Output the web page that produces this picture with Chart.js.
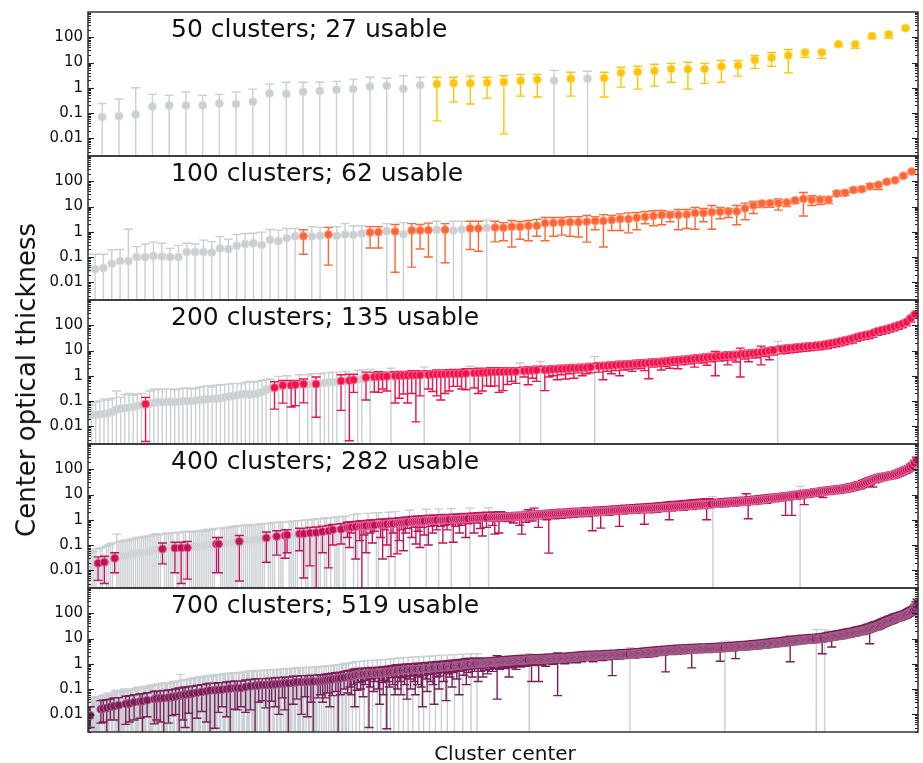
<!DOCTYPE html>
<html>
<head>
<meta charset="utf-8">
<title>Center optical thickness by cluster count</title>
<script src="https://cdn.jsdelivr.net/npm/chart.js@4.4.0/dist/chart.umd.min.js"></script>
<style>
  body { margin: 0; background: #fff; }
  #fig { position: relative; width: 923px; height: 763px; overflow: hidden; }
  #fig canvas { position: absolute; left: 0; }
  #ylab {
    position: absolute; left: 26px; top: 380px;
    transform: translate(-50%, -50%) rotate(-90deg);
    font: 26px "DejaVu Sans"; line-height: 1; color: #111; white-space: nowrap;
  }
</style>
</head>
<body>
<div id="fig">
  <div id="ylab">Center optical thickness</div>
</div>
<script>
// Each panel: sorted center optical thickness per cluster, the upper / lower end
// of its error bar (lo = 0 means the bar runs off the bottom of the axis),
// and a usable flag per cluster ('1' usable, '0' not).

// ---- 50 clusters ----
const tau50 = [0.06, 0.07, 0.075, 0.087, 0.18, 0.2, 0.2, 0.2, 0.24, 0.23,
  0.28, 0.6, 0.58, 0.7, 0.74, 0.83, 0.89, 1.13, 1.2, 0.91,
  1.27, 1.4, 1.53, 1.5, 1.58, 1.7, 1.9, 2.1, 1.9, 2.3,
  2.3, 2.4, 3.9, 4.2, 4.6, 5.6, 5.4, 5.6, 6.9, 7.7,
  12.5, 15.4, 19, 25, 25, 53, 53, 112, 131, 230];
const hi50 = [0.2, 0.24, 0.36, 1.0, 0.55, 0.5, 0.68, 0.5, 0.55, 0.68,
  0.89, 1.4, 1.67, 1.67, 1.67, 1.8, 2.2, 2.6, 2.4, 3.0,
  2.6, 2.6, 2.6, 2.9, 2.6, 3.0, 3.4, 3.4, 4.9, 4.1,
  4.5, 4.1, 6.5, 7.1, 8.5, 9.3, 10.2, 9.3, 12.2, 12.2,
  19, 25, 33, 30, 30, 60, 60, 122, 142, 250];
const lo50 = [0, 0, 0, 0, 0, 0, 0, 0, 0, 0,
  0, 0, 0, 0, 0, 0, 0, 0, 0, 0,
  0, 0.049, 0.27, 0.23, 0.39, 0.015, 0.47, 0.43, 0, 0.47,
  0, 0.43, 1.06, 0.89, 1.16, 1.67, 0.89, 1.5, 1.67, 2.9,
  5.9, 7.1, 3.9, 16, 14.6, 42, 37, 86, 91, 205];
const usable50 = ['0000000000', '0000000000', '0111111101', '0111111111', '1111111111'].join('');

// ---- 100 clusters ----
const tau100 = [0.033, 0.033, 0.037, 0.055, 0.07, 0.07, 0.1, 0.1, 0.11, 0.105,
  0.1, 0.1, 0.16, 0.16, 0.16, 0.15, 0.22, 0.21, 0.28, 0.33,
  0.35, 0.3, 0.48, 0.43, 0.56, 0.67, 0.67, 0.65, 0.7, 0.78,
  0.7, 0.78, 0.76, 0.86, 0.94, 0.97, 1.06, 1.03, 0.8, 1.13,
  1.13, 1.16, 1.2, 1.2, 1.13, 1.24, 1.35, 1.35, 1.4, 1.48,
  1.44, 1.58, 1.58, 1.73, 1.73, 2.2, 2.27, 2.34, 2.4, 2.4,
  2.5, 2.7, 2.7, 2.9, 3.2, 3.2, 3.6, 3.9, 4.2, 4.6,
  4.6, 4.6, 4.8, 5.5, 5.5, 6.0, 6.2, 6.4, 6.4, 8.4,
  11, 13.2, 13.6, 13.6, 14.5, 17.4, 20, 18.4, 18.4, 18.4,
  33, 35, 45.5, 48.5, 63, 72, 95, 110, 164, 243];
const hi100 = [0.13, 0.13, 0.13, 0.19, 0.2, 1.27, 0.26, 0.33, 0.39, 0.35,
  0.22, 0.29, 0.35, 0.33, 0.47, 0.41, 0.65, 0.51, 0.78, 0.86,
  0.88, 0.97, 1.23, 1.16, 1.35, 1.35, 1.2, 1.6, 1.5, 1.5,
  1.6, 2.1, 1.7, 1.7, 1.6, 1.6, 2.1, 1.95, 2.3, 2.1,
  1.95, 2.2, 2.6, 2.1, 2.6, 2.6, 2.6, 2.6, 2.9, 2.6,
  2.3, 2.8, 2.56, 2.8, 3.1, 3.7, 3.7, 3.7, 4.0, 4.0,
  4.4, 4.0, 4.8, 4.4, 5.1, 5.6, 5.8, 6.4, 6.8, 7.0,
  6.4, 7.6, 7.6, 9.2, 8.4, 11, 9.2, 8.4, 11, 13.6,
  15.8, 15.8, 16.8, 20, 15.8, 20.8, 35.8, 27, 25, 25,
  40, 43, 56, 59, 80, 85, 110, 127, 185, 270];
const lo100 = [0, 0, 0, 0, 0, 0, 0, 0, 0, 0,
  0, 0, 0, 0, 0, 0, 0, 0, 0, 0,
  0, 0, 0, 0, 0, 0, 0.13, 0, 0, 0.048,
  0, 0, 0, 0, 0.23, 0.23, 0, 0.025, 0, 0.04,
  0.21, 0.1, 0, 0.06, 0, 0, 0.2, 0.17, 0, 0.4,
  0.44, 0.25, 0.51, 0.44, 0.67, 0.44, 0.67, 0.74, 0.67, 0.62,
  0.39, 1.2, 0.25, 1.13, 1.13, 0.91, 1.2, 2.07, 1.73, 1.9,
  2.5, 1.2, 1.35, 1.27, 2.5, 1.27, 3.3, 3.7, 1.9, 3.0,
  5.3, 9.2, 9.4, 7.2, 10, 13.2, 4.2, 11, 12, 13.2,
  25.6, 27, 37, 40, 50, 47, 82, 95, 145, 220];
const usable100 = ['0000000000', '0000000000', '0000001001', '0000110101', '1101001101',
  '1111111111', '1111111111', '1111111111', '1111111111', '1111111111'].join('');

// ---- 200 clusters ----
const tau200 = [0.025, 0.026, 0.028, 0.030, 0.031, 0.033, 0.037, 0.045, 0.050, 0.052,
  0.055, 0.058, 0.065, 0.070, 0.076, 0.078, 0.085, 0.090, 0.090, 0.092,
  0.095, 0.090, 0.095, 0.10, 0.10, 0.10, 0.105, 0.11, 0.115, 0.12,
  0.12, 0.125, 0.13, 0.14, 0.15, 0.16, 0.17, 0.18, 0.19, 0.18,
  0.19, 0.20, 0.23, 0.28, 0.31, 0.34, 0.36, 0.42, 0.40, 0.42,
  0.44, 0.45, 0.47, 0.46, 0.48, 0.47, 0.50, 0.52, 0.55, 0.55,
  0.57, 0.62, 0.60, 0.65, 0.69, 0.70, 0.75, 0.86, 0.82, 0.90,
  0.92, 0.94, 0.95, 0.90, 1.0, 1.0, 1.02, 1.03, 1.04, 1.05,
  1.06, 1.05, 1.10, 1.12, 1.14, 1.15, 1.16, 1.17, 1.18, 1.19,
  1.20, 1.22, 1.20, 1.28, 1.30, 1.33, 1.35, 1.38, 1.40, 1.42,
  1.43, 1.44, 1.45, 1.46, 1.50, 1.55, 1.60, 1.63, 1.66, 1.68,
  1.70, 1.74, 1.78, 1.82, 1.86, 1.90, 1.94, 1.98, 2.02, 2.06,
  2.10, 2.20, 2.30, 2.40, 2.45, 2.50, 2.55, 2.60, 2.70, 2.75,
  2.80, 2.85, 2.90, 3.00, 3.10, 3.20, 3.30, 3.40, 3.50, 3.60,
  3.75, 3.90, 4.05, 4.20, 4.35, 4.50, 4.70, 4.90, 5.10, 5.30,
  5.50, 5.70, 5.90, 6.10, 6.30, 6.50, 6.70, 6.90, 7.10, 7.40,
  7.70, 8.00, 8.40, 9.00, 9.60, 10.2, 11.0, 11.5, 12.0, 12.5,
  13.0, 13.5, 14.0, 14.5, 15.0, 15.5, 16.0, 17.0, 18.0, 19.5,
  21, 23, 25, 27, 30, 34, 38, 41, 44, 50,
  58, 64, 70, 78, 88, 100, 115, 135, 190, 270];
const hi200 = [0.08, 0.07, 0.09, 0.10, 0.12, 0.11, 0.13, 0.25, 0.14, 0.18,
  0.20, 0.17, 0.19, 0.20, 0.14, 0.25, 0.30, 0.28, 0.30, 0.30,
  0.30, 0.28, 0.30, 0.32, 0.33, 0.30, 0.32, 0.35, 0.38, 0.40,
  0.36, 0.42, 0.44, 0.45, 0.47, 0.50, 0.50, 0.48, 0.55, 0.60,
  0.55, 0.60, 0.65, 0.70, 0.75, 0.58, 0.95, 0.65, 1.0, 0.65,
  0.65, 1.1, 0.75, 1.1, 1.2, 0.90, 1.2, 1.3, 1.3, 1.4,
  1.4, 1.1, 1.5, 1.15, 1.15, 1.6, 1.7, 1.4, 1.8, 1.4,
  1.45, 1.4, 1.4, 2.0, 1.45, 1.5, 1.5, 1.5, 1.6, 1.6,
  1.55, 2.2, 1.6, 1.6, 1.7, 1.6, 1.7, 1.75, 1.8, 1.8,
  1.8, 1.9, 2.4, 1.9, 2.0, 2.0, 2.0, 2.1, 2.1, 2.0,
  2.1, 2.0, 2.1, 2.1, 3.2, 2.2, 2.3, 2.3, 2.4, 3.7,
  2.4, 2.4, 2.5, 2.5, 2.6, 2.6, 2.7, 2.8, 2.8, 2.9,
  2.9, 3.1, 5.8, 3.3, 3.4, 3.4, 3.5, 3.6, 3.8, 3.8,
  3.9, 4.0, 4.1, 4.2, 4.3, 4.4, 4.6, 4.7, 4.9, 5.0,
  5.2, 5.4, 5.6, 5.8, 6.0, 6.2, 6.5, 6.8, 7.0, 7.3,
  7.6, 9.1, 8.1, 8.4, 8.7, 9.0, 9.3, 12.4, 9.8, 10.2,
  10.6, 11.0, 15, 12.2, 13.0, 13.8, 23, 15.4, 16.0, 16.6,
  17.2, 17.8, 18.4, 19.0, 19.6, 20.2, 21, 22, 23, 25,
  27, 29, 32, 34, 37, 41, 46, 50, 54, 61,
  70, 77, 84, 93, 104, 118, 135, 158, 220, 310];
const lo200 = [0, 0, 0, 0, 0, 0, 0, 0, 0, 0,
  0, 0, 0, 0, 0.0025, 0, 0, 0, 0, 0,
  0, 0, 0, 0, 0, 0, 0, 0, 0, 0,
  0, 0, 0, 0, 0, 0, 0, 0, 0, 0,
  0, 0, 0, 0, 0, 0.048, 0, 0.083, 0, 0.058,
  0.066, 0, 0.085, 0, 0, 0.023, 0, 0, 0, 0,
  0, 0.043, 0, 0.0027, 0.22, 0, 0, 0.11, 0, 0.23,
  0.22, 0.30, 0.25, 0, 0.084, 0.13, 0.19, 0.084, 0.20, 0.015,
  0.16, 0, 0.30, 0.24, 0.16, 0.11, 0.20, 0.25, 0.38, 0.38,
  0.30, 0.28, 0, 0.33, 0.20, 0.25, 0.40, 0.38, 0.40, 0.22,
  0.26, 0.45, 0.6, 0.5, 0, 0.9, 0.44, 0.8, 0.6, 0,
  0.26, 0.9, 1.0, 0.7, 1.1, 0.75, 1.2, 0.8, 1.3, 1.0,
  1.2, 1.3, 0, 1.4, 0.7, 1.5, 1.2, 1.6, 1.0, 1.7,
  1.8, 1.5, 1.9, 2.0, 1.6, 0.76, 2.2, 2.3, 1.7, 2.4,
  2.0, 2.6, 1.9, 2.7, 2.9, 3.0, 2.2, 3.2, 3.3, 2.6,
  3.6, 1.0, 3.8, 4.0, 2.7, 4.2, 3.5, 0.9, 4.6, 3.6,
  5.0, 5.2, 2.7, 5.8, 4.3, 6.6, 0, 7.4, 7.8, 8.2,
  8.6, 9.0, 9.3, 9.6, 10.0, 10.4, 10.8, 11.4, 12.0, 13.0,
  14, 15.5, 17, 18.5, 20, 23, 26, 28, 30, 34,
  40, 44, 48, 54, 61, 70, 80, 95, 135, 200];
const usable200 = ['0000000000', '0000100000', '0000000000', '0000000000', '0000010101',
  '1010010000', '0101100101', '1110111111', '1011111111', '1101111111',
  '1111011110', '1111111111', '1101111111', '1111111111', '1111111111',
  '1111111111', '1111110111', '1111111111', '1111111111', '1111111111'].join('');

// ---- 400 clusters ----
const tau400 = [0.013, 0.014, 0.016, 0.017, 0.018, 0.019, 0.020, 0.021, 0.021, 0.022,
  0.024, 0.026, 0.028, 0.030, 0.033, 0.035, 0.036, 0.038, 0.039, 0.040,
  0.041, 0.043, 0.044, 0.045, 0.047, 0.048, 0.050, 0.051, 0.053, 0.055,
  0.056, 0.058, 0.060, 0.062, 0.065, 0.068, 0.070, 0.072, 0.074, 0.075,
  0.076, 0.077, 0.076, 0.078, 0.079, 0.077, 0.080, 0.082, 0.078, 0.084,
  0.085, 0.086, 0.088, 0.089, 0.090, 0.092, 0.094, 0.096, 0.098, 0.10,
  0.10, 0.11, 0.11, 0.11, 0.11, 0.12, 0.12, 0.12, 0.12, 0.13,
  0.13, 0.13, 0.14, 0.14, 0.14, 0.15, 0.15, 0.15, 0.16, 0.16,
  0.16, 0.17, 0.17, 0.17, 0.18, 0.18, 0.19, 0.19, 0.20, 0.20,
  0.21, 0.22, 0.22, 0.22, 0.23, 0.24, 0.25, 0.25, 0.26, 0.26,
  0.27, 0.27, 0.28, 0.28, 0.28, 0.29, 0.29, 0.30, 0.30, 0.31,
  0.31, 0.32, 0.33, 0.34, 0.34, 0.35, 0.36, 0.38, 0.40, 0.40,
  0.41, 0.42, 0.42, 0.44, 0.46, 0.48, 0.50, 0.51, 0.52, 0.53,
  0.54, 0.55, 0.56, 0.57, 0.58, 0.59, 0.60, 0.60, 0.61, 0.62,
  0.63, 0.64, 0.65, 0.66, 0.67, 0.68, 0.69, 0.70, 0.71, 0.72,
  0.74, 0.75, 0.77, 0.78, 0.80, 0.81, 0.83, 0.84, 0.86, 0.87,
  0.88, 0.89, 0.90, 0.91, 0.92, 0.93, 0.94, 0.95, 0.96, 0.97,
  0.98, 0.99, 1.00, 1.00, 1.01, 1.02, 1.03, 1.04, 1.05, 1.06,
  1.07, 1.08, 1.09, 1.10, 1.11, 1.13, 1.14, 1.16, 1.17, 1.19,
  1.20, 1.21, 1.22, 1.23, 1.24, 1.25, 1.26, 1.27, 1.28, 1.29,
  1.30, 1.31, 1.32, 1.33, 1.34, 1.35, 1.36, 1.37, 1.38, 1.39,
  1.41, 1.43, 1.45, 1.47, 1.49, 1.51, 1.53, 1.55, 1.57, 1.60,
  1.62, 1.64, 1.66, 1.68, 1.70, 1.72, 1.74, 1.76, 1.78, 1.80,
  1.82, 1.84, 1.86, 1.88, 1.90, 1.92, 1.94, 1.96, 1.98, 2.00,
  2.02, 2.04, 2.06, 2.08, 2.10, 2.12, 2.14, 2.16, 2.18, 2.20,
  2.22, 2.25, 2.27, 2.30, 2.33, 2.36, 2.39, 2.42, 2.45, 2.48,
  2.51, 2.54, 2.57, 2.60, 2.63, 2.66, 2.69, 2.72, 2.75, 2.78,
  2.81, 2.84, 2.87, 2.90, 2.94, 2.98, 3.02, 3.06, 3.10, 3.14,
  3.18, 3.22, 3.27, 3.32, 3.36, 3.41, 3.46, 3.51, 3.56, 3.61,
  3.66, 3.71, 3.76, 3.81, 3.86, 3.91, 3.96, 4.0, 4.05, 4.1,
  4.15, 4.2, 4.3, 4.35, 4.4, 4.5, 4.55, 4.6, 4.7, 4.8,
  4.85, 4.9, 5.0, 5.1, 5.2, 5.25, 5.3, 5.4, 5.5, 5.6,
  5.7, 5.8, 5.9, 6.0, 6.2, 6.3, 6.5, 6.6, 6.8, 7.0,
  7.1, 7.3, 7.5, 7.7, 7.9, 8.1, 8.3, 8.5, 8.7, 8.9,
  9.1, 9.3, 9.5, 9.7, 10.0, 10.3, 10.6, 10.9, 11.3, 11.6,
  12.0, 12.3, 12.6, 12.9, 13.2, 13.5, 13.8, 14.1, 14.5, 14.8,
  15.1, 15.4, 15.8, 16.2, 16.6, 17.2, 17.9, 18.7, 19.6, 20.6,
  21.7, 23, 24, 26, 28, 30, 32, 35, 38, 41,
  44, 46, 48, 50, 52, 54, 56, 58, 60, 64,
  69, 75, 81, 88, 96, 105, 120, 140, 175, 232];
const hi400 = [0.045, 0.05, 0.06, 0.055, 0.07, 0.034, 0.075, 0.08, 0.036, 0.09,
  0.1, 0.11, 0.12, 0.05, 0.27, 0.13, 0.14, 0.15, 0.16, 0.14,
  0.16, 0.17, 0.18, 0.18, 0.2, 0.19, 0.21, 0.2, 0.22, 0.23,
  0.22, 0.24, 0.26, 0.28, 0.25, 0.27, 0.12, 0.27, 0.3, 0.29,
  0.3, 0.31, 0.13, 0.3, 0.32, 0.13, 0.33, 0.35, 0.14, 0.34,
  0.32, 0.35, 0.36, 0.34, 0.37, 0.38, 0.4, 0.36, 0.42, 0.4,
  0.4, 0.45, 0.2, 0.2, 0.46, 0.48, 0.45, 0.5, 0.48, 0.52,
  0.55, 0.52, 0.58, 0.24, 0.56, 0.6, 0.62, 0.58, 0.64, 0.62,
  0.63, 0.66, 0.64, 0.68, 0.7, 0.68, 0.33, 0.72, 0.74, 0.76,
  0.78, 0.37, 0.8, 0.82, 0.8, 0.4, 0.41, 0.85, 0.88, 0.9,
  0.9, 0.92, 0.46, 0.95, 0.47, 0.98, 1.0, 0.5, 1.0, 1.05,
  0.52, 1.1, 1.1, 0.56, 1.15, 1.2, 0.6, 1.2, 0.66, 1.25,
  1.3, 1.3, 0.7, 1.35, 1.4, 0.8, 0.82, 0.84, 1.6, 0.86,
  1.7, 0.9, 0.92, 0.93, 0.95, 1.8, 0.98, 0.99, 1.0, 1.9,
  1.9, 1.05, 1.07, 1.08, 1.1, 2.0, 1.13, 1.15, 2.1, 1.17,
  1.2, 1.22, 1.25, 1.27, 1.3, 2.4, 1.35, 1.37, 1.4, 1.42,
  1.43, 1.45, 1.46, 2.6, 1.5, 1.51, 1.53, 1.54, 1.56, 2.7,
  1.59, 1.6, 1.62, 1.62, 1.64, 2.8, 1.67, 1.68, 1.7, 1.72,
  1.73, 1.75, 1.77, 1.78, 2.9, 1.83, 1.85, 1.88, 1.9, 1.93,
  1.94, 1.96, 1.99, 3.0, 2.0, 2.03, 2.05, 2.06, 2.08, 2.09,
  1.85, 1.87, 1.88, 1.9, 1.92, 1.93, 1.95, 1.96, 1.98, 2.0,
  2.0, 2.05, 2.5, 2.1, 2.15, 2.9, 2.2, 2.2, 2.25, 2.3,
  2.3, 2.35, 2.4, 2.4, 2.45, 2.5, 2.5, 2.55, 2.6, 2.6,
  2.65, 2.7, 2.7, 2.75, 2.8, 2.8, 2.85, 2.9, 2.9, 2.95,
  3.0, 3.0, 3.05, 3.1, 3.1, 3.15, 3.2, 3.2, 3.25, 3.3,
  3.3, 3.35, 3.4, 3.45, 3.5, 3.55, 3.6, 3.65, 3.7, 3.75,
  3.8, 3.85, 3.9, 3.95, 4.0, 4.05, 4.1, 4.15, 4.2, 4.25,
  4.3, 4.35, 4.4, 4.45, 4.5, 4.6, 4.7, 4.8, 4.9, 5.0,
  5.1, 5.2, 5.3, 5.3, 5.4, 5.5, 5.6, 5.7, 5.8, 5.9,
  6.0, 6.1, 6.2, 6.3, 6.4, 6.5, 6.6, 6.7, 6.8, 6.9,
  6.2, 8.3, 6.4, 6.5, 6.6, 6.7, 6.8, 6.9, 7.0, 7.1,
  7.2, 7.3, 7.4, 7.5, 7.6, 7.7, 7.8, 10.8, 8.0, 8.2,
  8.3, 8.5, 8.6, 8.8, 9.0, 9.2, 9.4, 9.6, 9.8, 10.0,
  10.2, 10.4, 10.6, 10.8, 11.0, 11.3, 11.6, 11.9, 12.2, 12.5,
  12.8, 13.1, 13.4, 21, 14.0, 14.4, 14.8, 15.2, 15.6, 16.0,
  16.5, 17.0, 17.5, 18.0, 18.5, 19.0, 19.5, 20, 20.5, 21,
  21.5, 22, 22.5, 23, 23.5, 24, 25, 26, 27, 28.5,
  30, 32, 33, 36, 39, 42, 45, 48, 52, 56,
  60, 62, 65, 68, 70, 73, 75, 78, 80, 85,
  92, 100, 108, 117, 127, 140, 158, 183, 225, 300];
const lo400 = [0, 0, 0, 0, 0, 0.004, 0, 0, 0.003, 0,
  0, 0, 0, 0.008, 0, 0, 0, 0, 0, 0,
  0, 0, 0, 0, 0, 0, 0, 0, 0, 0,
  0, 0, 0, 0, 0, 0, 0.018, 0, 0, 0,
  0, 0, 0.008, 0, 0, 0.003, 0, 0, 0.0045, 0,
  0, 0, 0, 0, 0, 0, 0, 0, 0, 0,
  0, 0, 0.008, 0.008, 0, 0, 0, 0, 0, 0,
  0, 0, 0, 0.0038, 0, 0, 0, 0, 0, 0,
  0, 0, 0, 0, 0, 0, 0.021, 0, 0, 0,
  0, 0.04, 0, 0, 0, 0.03, 0.05, 0, 0, 0,
  0, 0, 0.06, 0, 0.005, 0, 0, 0.015, 0, 0,
  0, 0, 0, 0.05, 0, 0, 0.0125, 0, 0.1, 0,
  0, 0, 0.11, 0, 0, 0.2, 0.08, 0.3, 0, 0.028,
  0, 0.15, 0, 0.25, 0.05, 0, 0.3, 0.12, 0.35, 0,
  0, 0.2, 0.028, 0.4, 0.1, 0, 0.035, 0.3, 0, 0.045,
  0.15, 0.4, 0.06, 0.3, 0.45, 0, 0.2, 0.5, 0.11, 0.35,
  0.08, 0.5, 0.25, 0, 0.1, 0.55, 0.3, 0.6, 0.4, 0,
  0.55, 0.12, 0.6, 0.4, 0.65, 0, 0.13, 0.55, 0.7, 0.3,
  0.6, 0.75, 0.2, 0.7, 0, 0.8, 0.3, 0.75, 0.85, 0.45,
  0.23, 0.9, 0.5, 0, 0.9, 0.6, 0.27, 0.85, 0.3, 0.9,
  0.9, 0.95, 0.85, 1.0, 0.92, 0.75, 0.95, 1.0, 0.6, 0.27,
  1.0, 0.8, 1.05, 1.1, 0.9, 1.1, 1.15, 0.5, 1.1, 1.2,
  1.15, 1.0, 0.048, 1.2, 1.25, 1.1, 1.25, 1.3, 1.15, 1.3,
  1.3, 1.2, 1.35, 1.35, 1.25, 1.4, 1.4, 1.3, 1.45, 1.45,
  1.45, 1.35, 1.5, 0.37, 1.45, 1.55, 1.55, 0.47, 1.6, 1.6,
  1.6, 1.5, 1.65, 1.7, 1.6, 1.75, 0.55, 1.8, 1.7, 1.85,
  1.85, 1.75, 1.9, 1.9, 1.8, 1.95, 2.0, 1.9, 0.67, 2.05,
  2.05, 1.9, 2.1, 2.15, 2.0, 2.2, 2.2, 2.1, 2.3, 2.3,
  1.0, 2.2, 2.4, 2.45, 2.3, 2.5, 2.5, 2.4, 2.6, 2.65,
  2.7, 2.55, 2.75, 2.8, 2.7, 2.85, 2.9, 2.8, 1.0, 3.0,
  3.05, 0, 3.1, 3.2, 3.1, 3.3, 3.3, 3.25, 3.4, 3.5,
  3.5, 3.45, 3.6, 3.7, 3.65, 3.8, 3.8, 3.75, 1.1, 4.0,
  4.1, 4.0, 4.2, 4.3, 4.4, 4.5, 4.6, 4.5, 4.8, 5.0,
  5.1, 5.2, 5.4, 5.5, 5.6, 5.8, 1.5, 6.0, 6.2, 1.5,
  6.5, 6.6, 6.8, 0, 7.2, 4.0, 7.6, 7.8, 8.1, 8.3,
  8.6, 8.8, 9.0, 9.3, 7.6, 9.7, 9.9, 10.1, 10.4, 10.6,
  10.8, 11.0, 11.3, 11.6, 11.9, 12.3, 12.8, 13.3, 14.0, 14.7,
  15.5, 16.4, 17, 18.5, 20, 21, 23, 25, 20, 29,
  31, 33, 35, 36, 38, 39, 41, 42, 44, 46,
  50, 54, 59, 64, 70, 77, 87, 100, 125, 165];
const usable400 = ['0000010010', '0001000000', '0000000000', '0000001000', '0010010010',
  '0000000000', '0011000000', '0001000000', '0000001000', '0100011000',
  '0010100100', '1001001010', '0010011101', '0111101110', '0111101101',
  '1111101111', '1110111110', '1111101111', '1111011111', '1110111111',
  '1111111111', '1111111111', '1111111111', '1111111111', '1111111111',
  '1111111111', '1111111111', '1111111111', '1111111111', '1111111111',
  '1011111111', '1111111111', '1111111111', '1111111111', '1110111111',
  '1111111111', '1111111111', '1111111111', '1111111111', '1111111111'].join('');

// ---- 700 clusters ----
const tau700 = [0.009, 0.009, 0.009, 0.010, 0.011, 0.012, 0.013, 0.013, 0.014, 0.015,
  0.015, 0.016, 0.017, 0.017, 0.018, 0.018, 0.018, 0.019, 0.019, 0.020,
  0.020, 0.021, 0.021, 0.022, 0.022, 0.023, 0.023, 0.024, 0.024, 0.025,
  0.025, 0.026, 0.026, 0.027, 0.027, 0.027, 0.028, 0.028, 0.029, 0.030,
  0.030, 0.031, 0.031, 0.032, 0.032, 0.033, 0.033, 0.034, 0.035, 0.035,
  0.036, 0.037, 0.037, 0.038, 0.039, 0.039, 0.040, 0.041, 0.042, 0.042,
  0.042, 0.043, 0.043, 0.044, 0.044, 0.045, 0.045, 0.046, 0.046, 0.047,
  0.047, 0.048, 0.049, 0.050, 0.051, 0.052, 0.054, 0.055, 0.056, 0.057,
  0.058, 0.059, 0.060, 0.061, 0.062, 0.063, 0.064, 0.066, 0.067, 0.069,
  0.070, 0.071, 0.072, 0.073, 0.075, 0.076, 0.077, 0.078, 0.079, 0.080,
  0.082, 0.084, 0.086, 0.088, 0.088, 0.088, 0.088, 0.089, 0.090, 0.091,
  0.092, 0.093, 0.094, 0.095, 0.096, 0.097, 0.098, 0.099, 0.10, 0.10,
  0.105, 0.106, 0.107, 0.107, 0.108, 0.109, 0.11, 0.11, 0.11, 0.11,
  0.11, 0.115, 0.12, 0.12, 0.125, 0.125, 0.13, 0.13, 0.13, 0.135,
  0.135, 0.135, 0.14, 0.14, 0.14, 0.14, 0.14, 0.145, 0.145, 0.145,
  0.145, 0.146, 0.147, 0.148, 0.149, 0.15, 0.15, 0.152, 0.154, 0.155,
  0.157, 0.159, 0.161, 0.163, 0.165, 0.167, 0.169, 0.17, 0.17, 0.17,
  0.17, 0.173, 0.176, 0.179, 0.182, 0.185, 0.188, 0.19, 0.19, 0.19,
  0.19, 0.19, 0.19, 0.19, 0.19, 0.192, 0.194, 0.196, 0.198, 0.199,
  0.20, 0.20, 0.20, 0.20, 0.20, 0.203, 0.206, 0.209, 0.21, 0.215,
  0.22, 0.225, 0.23, 0.232, 0.234, 0.236, 0.238, 0.24, 0.245, 0.25,
  0.255, 0.26, 0.265, 0.27, 0.275, 0.28, 0.285, 0.29, 0.30, 0.305,
  0.31, 0.315, 0.32, 0.33, 0.34, 0.35, 0.36, 0.365, 0.37, 0.38,
  0.383, 0.386, 0.389, 0.392, 0.395, 0.40, 0.40, 0.403, 0.406, 0.409,
  0.41, 0.413, 0.416, 0.419, 0.422, 0.425, 0.428, 0.431, 0.435, 0.44,
  0.446, 0.452, 0.459, 0.466, 0.473, 0.48, 0.487, 0.494, 0.50, 0.51,
  0.52, 0.53, 0.535, 0.54, 0.545, 0.55, 0.555, 0.56, 0.565, 0.57,
  0.574, 0.578, 0.582, 0.586, 0.59, 0.594, 0.597, 0.60, 0.606, 0.612,
  0.618, 0.624, 0.63, 0.636, 0.642, 0.648, 0.654, 0.66, 0.67, 0.68,
  0.685, 0.69, 0.695, 0.70, 0.71, 0.72, 0.725, 0.73, 0.735, 0.74,
  0.75, 0.755, 0.76, 0.77, 0.775, 0.78, 0.79, 0.80, 0.81, 0.82,
  0.83, 0.84, 0.85, 0.86, 0.87, 0.88, 0.89, 0.90, 0.92, 0.94,
  0.95, 0.96, 0.97, 0.98, 0.985, 0.99, 0.995, 1.0, 1.0, 1.01,
  1.02, 1.03, 1.04, 1.05, 1.06, 1.07, 1.08, 1.09, 1.1, 1.1,
  1.11, 1.12, 1.13, 1.14, 1.15, 1.16, 1.17, 1.18, 1.19, 1.2,
  1.21, 1.22, 1.23, 1.24, 1.25, 1.26, 1.27, 1.28, 1.29, 1.30,
  1.31, 1.32, 1.33, 1.34, 1.35, 1.36, 1.37, 1.38, 1.39, 1.40,
  1.41, 1.42, 1.44, 1.44, 1.45, 1.45, 1.46, 1.46, 1.47, 1.47,
  1.48, 1.48, 1.49, 1.49, 1.50, 1.50, 1.51, 1.52, 1.53, 1.54,
  1.55, 1.56, 1.57, 1.58, 1.59, 1.60, 1.61, 1.62, 1.63, 1.64,
  1.65, 1.66, 1.67, 1.68, 1.69, 1.70, 1.71, 1.72, 1.73, 1.75,
  1.77, 1.79, 1.81, 1.83, 1.84, 1.86, 1.88, 1.9, 1.92, 1.94,
  1.96, 1.97, 1.98, 1.99, 2.0, 2.01, 2.02, 2.03, 2.04, 2.05,
  2.06, 2.07, 2.08, 2.09, 2.1, 2.11, 2.13, 2.15, 2.17, 2.19,
  2.19, 2.2, 2.2, 2.21, 2.22, 2.23, 2.24, 2.25, 2.27, 2.29,
  2.31, 2.32, 2.33, 2.34, 2.35, 2.36, 2.38, 2.4, 2.42, 2.44,
  2.46, 2.48, 2.5, 2.52, 2.54, 2.56, 2.58, 2.6, 2.64, 2.68,
  2.7, 2.72, 2.75, 2.78, 2.8, 2.83, 2.86, 2.89, 2.92, 2.95,
  2.98, 3.0, 3.03, 3.06, 3.09, 3.12, 3.15, 3.18, 3.21, 3.24,
  3.27, 3.3, 3.33, 3.36, 3.39, 3.42, 3.45, 3.48, 3.5, 3.52,
  3.54, 3.56, 3.58, 3.6, 3.62, 3.64, 3.66, 3.68, 3.7, 3.72,
  3.74, 3.76, 3.78, 3.8, 3.82, 3.84, 3.86, 3.88, 3.9, 3.92,
  3.94, 3.96, 3.97, 3.98, 3.99, 4.0, 4.0, 4.02, 4.05, 4.08,
  4.1, 4.13, 4.16, 4.19, 4.22, 4.25, 4.28, 4.3, 4.33, 4.36,
  4.39, 4.42, 4.46, 4.5, 4.54, 4.58, 4.62, 4.66, 4.7, 4.74,
  4.78, 4.82, 4.86, 4.88, 4.9, 4.95, 5.0, 5.05, 5.1, 5.15,
  5.2, 5.25, 5.3, 5.36, 5.42, 5.48, 5.54, 5.6, 5.66, 5.72,
  5.78, 5.84, 5.9, 5.96, 6.02, 6.1, 6.2, 6.3, 6.4, 6.5,
  6.55, 6.6, 6.65, 6.7, 6.8, 6.9, 7.0, 7.1, 7.2, 7.3,
  7.4, 7.5, 7.6, 7.7, 7.8, 7.9, 8.0, 8.1, 8.2, 8.3,
  8.4, 8.5, 8.6, 8.7, 8.8, 8.85, 8.9, 8.95, 9.0, 9.1,
  9.2, 9.3, 9.4, 9.45, 9.5, 9.6, 9.7, 9.8, 9.9, 10.0,
  10.2, 10.4, 10.6, 10.8, 11.0, 11.4, 11.6, 11.8, 12.0, 12.2,
  12.4, 12.6, 12.8, 13.0, 13.2, 13.5, 13.8, 14.1, 14.5, 14.8,
  15.1, 15.4, 15.7, 16.0, 16.3, 16.7, 17.1, 17.6, 18.1, 18.6,
  19.1, 19.4, 19.7, 20.2, 20.8, 21.5, 22.2, 23.0, 23.8, 24.6,
  25.5, 27, 28, 29, 30, 30.5, 31, 33, 35, 37,
  39, 41, 43, 45, 47, 49, 51, 53, 55, 58,
  62, 64, 66, 68, 70, 73, 76, 79, 82, 85,
  90, 96, 103, 110, 116, 122, 135, 160, 200, 260];
const hi700 = [0.03, 0.02, 0.02, 0.035, 0.04, 0.038, 0.05, 0.045, 0.04, 0.05,
  0.05, 0.035, 0.055, 0.036, 0.06, 0.05, 0.038, 0.07, 0.055, 0.04,
  0.06, 0.07, 0.045, 0.08, 0.09, 0.07, 0.046, 0.09, 0.075, 0.08,
  0.08, 0.1, 0.052, 0.09, 0.085, 0.055, 0.09, 0.1, 0.09, 0.06,
  0.09, 0.11, 0.1, 0.12, 0.064, 0.1, 0.066, 0.12, 0.11, 0.13,
  0.072, 0.13, 0.12, 0.14, 0.13, 0.15, 0.08, 0.14, 0.084, 0.16,
  0.15, 0.085, 0.16, 0.17, 0.088, 0.16, 0.18, 0.17, 0.092, 0.18,
  0.17, 0.095, 0.19, 0.2, 0.1, 0.2, 0.21, 0.11, 0.38, 0.22,
  0.115, 0.23, 0.12, 0.24, 0.22, 0.125, 0.25, 0.26, 0.13, 0.27,
  0.28, 0.27, 0.14, 0.29, 0.3, 0.28, 0.15, 0.31, 0.3, 0.32,
  0.16, 0.33, 0.34, 0.17, 0.32, 0.35, 0.36, 0.17, 0.36, 0.38,
  0.18, 0.37, 0.38, 0.18, 0.4, 0.39, 0.41, 0.19, 0.4, 0.42,
  0.2, 0.42, 0.43, 0.44, 0.21, 0.43, 0.21, 0.45, 0.44, 0.21,
  0.45, 0.46, 0.48, 0.23, 0.5, 0.49, 0.52, 0.24, 0.5, 0.53,
  0.52, 0.25, 0.54, 0.53, 0.26, 0.55, 0.54, 0.26, 0.56, 0.55,
  0.26, 0.57, 0.56, 0.27, 0.58, 0.27, 0.58, 0.6, 0.28, 0.59,
  0.6, 0.29, 0.62, 0.61, 0.29, 0.63, 0.3, 0.64, 0.62, 0.3,
  0.65, 0.64, 0.66, 0.32, 0.67, 0.68, 0.33, 0.7, 0.68, 0.72,
  0.34, 0.7, 0.72, 0.34, 0.73, 0.34, 0.74, 0.72, 0.35, 0.75,
  0.35, 0.74, 0.76, 0.75, 0.36, 0.77, 0.37, 0.78, 0.37, 0.8,
  0.39, 0.82, 0.4, 0.84, 0.41, 0.85, 0.42, 0.86, 0.88, 0.44,
  0.9, 0.45, 0.92, 0.47, 0.95, 0.97, 0.5, 1.0, 1.05, 0.53,
  1.05, 0.55, 0.56, 1.1, 0.6, 0.62, 1.2, 0.64, 0.65, 1.25,
  0.66, 0.67, 0.67, 1.3, 0.68, 0.69, 1.35, 0.7, 0.7, 0.71,
  1.35, 0.71, 0.72, 0.72, 1.4, 0.73, 0.74, 1.45, 0.75, 0.76,
  0.77, 1.5, 0.79, 0.8, 0.81, 1.55, 0.84, 0.85, 1.6, 0.88,
  0.9, 0.92, 1.7, 0.93, 0.94, 0.95, 1.75, 0.96, 0.97, 0.98,
  1.8, 0.99, 1.0, 1.0, 1.85, 1.02, 1.03, 1.04, 1.05, 1.9,
  1.06, 1.07, 1.08, 1.95, 1.1, 1.11, 1.12, 1.13, 2.0, 1.16,
  1.17, 1.18, 1.19, 2.1, 1.21, 1.23, 1.24, 1.25, 2.2, 1.27,
  1.28, 1.29, 1.3, 2.2, 1.32, 1.33, 1.35, 1.36, 1.38, 2.3,
  1.41, 1.43, 1.45, 1.46, 1.48, 1.5, 2.4, 1.53, 1.56, 1.6,
  1.62, 1.63, 1.65, 2.5, 1.68, 1.68, 1.69, 1.7, 2.5, 1.72,
  1.6, 1.62, 1.63, 1.65, 1.66, 1.68, 1.7, 1.71, 1.72, 1.72,
  1.73, 1.75, 1.76, 1.78, 1.8, 2.1, 1.83, 1.84, 1.86, 1.88,
  1.89, 1.9, 1.92, 1.93, 1.95, 1.96, 1.98, 2.0, 2.01, 2.03,
  2.04, 2.06, 2.07, 2.09, 2.1, 2.12, 2.14, 2.15, 2.17, 2.18,
  2.2, 2.21, 2.5, 2.24, 2.26, 2.26, 2.27, 2.27, 2.28, 2.28,
  2.3, 2.3, 2.31, 2.31, 2.33, 2.33, 2.35, 2.36, 2.38, 2.4,
  2.41, 2.43, 2.44, 2.46, 2.47, 2.49, 2.7, 2.52, 2.53, 2.55,
  2.56, 2.58, 2.6, 2.61, 2.63, 2.64, 2.66, 2.67, 2.69, 2.72,
  2.75, 2.78, 2.81, 2.84, 2.86, 2.89, 2.92, 2.95, 2.98, 3.0,
  3.05, 3.06, 3.07, 3.09, 3.1, 3.12, 3.13, 3.15, 3.16, 3.18,
  3.2, 3.21, 3.23, 3.24, 3.26, 3.27, 3.3, 3.33, 3.36, 3.4,
  3.4, 3.41, 3.41, 3.43, 3.44, 3.46, 3.47, 3.49, 3.52, 3.55,
  3.58, 3.6, 3.61, 3.63, 3.64, 3.66, 3.69, 4.3, 3.75, 3.78,
  3.81, 3.84, 3.88, 3.91, 3.94, 3.97, 4.0, 4.03, 4.09, 4.15,
  4.19, 4.22, 4.26, 4.31, 4.34, 4.39, 4.43, 4.48, 4.53, 4.57,
  4.62, 4.65, 4.7, 4.74, 4.79, 4.84, 4.88, 4.93, 4.98, 5.02,
  5.07, 5.12, 5.16, 5.21, 5.25, 5.3, 5.35, 5.39, 5.43, 5.46,
  5.49, 5.52, 5.55, 5.58, 5.61, 5.64, 5.67, 5.7, 5.74, 5.77,
  5.8, 5.83, 5.86, 5.89, 5.92, 5.95, 5.98, 6.01, 6.05, 6.08,
  6.11, 6.14, 6.15, 6.17, 6.18, 6.2, 6.2, 6.23, 6.28, 6.32,
  6.36, 6.4, 6.45, 6.49, 6.54, 6.59, 6.63, 7.9, 6.71, 6.76,
  6.8, 6.85, 6.91, 6.98, 7.04, 7.1, 7.16, 7.22, 7.29, 7.35,
  7.41, 7.47, 7.53, 7.56, 7.6, 7.67, 7.75, 7.83, 7.91, 7.98,
  8.06, 8.14, 8.22, 8.31, 8.4, 8.49, 8.59, 8.68, 8.77, 8.87,
  8.96, 9.05, 9.15, 9.24, 9.33, 9.46, 9.61, 9.77, 9.92, 10.1,
  10.2, 10.2, 10.3, 10.4, 10.5, 10.7, 10.9, 11.0, 11.2, 11.3,
  11.5, 11.6, 12.5, 11.9, 12.1, 12.2, 12.4, 12.6, 12.7, 12.9,
  13.0, 13.2, 13.3, 13.5, 13.6, 13.7, 13.8, 13.9, 14.0, 14.1,
  14.3, 14.4, 14.6, 14.6, 23, 14.9, 15.0, 15.2, 15.3, 15.5,
  15.8, 22, 16.4, 16.7, 17.1, 17.7, 18.0, 18.3, 18.6, 18.9,
  19.2, 19.5, 19.8, 20.2, 20.5, 20.9, 21.4, 21.9, 22.5, 22.9,
  23.4, 23.9, 24.3, 24.8, 25.3, 25.9, 26.5, 27.3, 28.1, 28.8,
  29.6, 30.1, 30.5, 31.3, 32.2, 33.3, 34.4, 35.7, 36.9, 38.1,
  39.5, 41.8, 43.4, 45, 46.5, 47.3, 48, 51, 54, 57,
  60, 63, 66, 69, 72, 75, 78, 81, 84, 88,
  93, 96, 99, 102, 105, 109, 113, 117, 122, 127,
  134, 142, 152, 162, 170, 178, 196, 230, 285, 360];
const lo700 = [0, 0, 0.003, 0, 0, 0, 0, 0, 0, 0,
  0, 0.0045, 0, 0.005, 0, 0, 0, 0, 0, 0.006,
  0, 0, 0.006, 0, 0, 0, 0, 0, 0, 0,
  0, 0, 0.004, 0, 0, 0.005, 0, 0, 0, 0.006,
  0, 0, 0, 0, 0.007, 0, 0, 0, 0, 0,
  0.008, 0, 0, 0, 0, 0, 0.0042, 0, 0.006, 0,
  0, 0.005, 0, 0, 0, 0, 0, 0, 0.0045, 0,
  0, 0.009, 0, 0, 0.01, 0, 0, 0, 0, 0,
  0.006, 0, 0.003, 0, 0, 0.011, 0, 0, 0, 0,
  0, 0, 0.007, 0, 0, 0, 0.013, 0, 0, 0,
  0.005, 0, 0, 0, 0, 0, 0, 0.0028, 0, 0,
  0.012, 0, 0, 0.02, 0, 0, 0, 0.008, 0, 0,
  0, 0, 0, 0, 0.016, 0, 0.015, 0, 0, 0.02,
  0, 0, 0, 0.012, 0, 0, 0, 0.015, 0, 0,
  0, 0, 0, 0, 0.03, 0, 0, 0.035, 0, 0,
  0.018, 0, 0, 0, 0, 0.033, 0, 0, 0.02, 0,
  0, 0.01, 0, 0, 0.045, 0, 0.015, 0, 0, 0,
  0, 0, 0, 0.025, 0, 0, 0.04, 0, 0, 0,
  0.01, 0, 0, 0.05, 0, 0.008, 0, 0, 0.03, 0,
  0, 0, 0, 0, 0.045, 0, 0.06, 0, 0.03, 0,
  0.045, 0, 0.07, 0, 0.02, 0, 0.055, 0, 0, 0.08,
  0, 0, 0, 0.06, 0, 0, 0.1, 0, 0, 0.07,
  0, 0.12, 0.06, 0, 0.15, 0.02, 0, 0.09, 0.18, 0,
  0.1, 0.2, 0.05, 0, 0.15, 0.22, 0, 0.003, 0.12, 0.25,
  0, 0.08, 0.2, 0.27, 0, 0.1, 0.025, 0, 0.18, 0.06,
  0.22, 0, 0.0027, 0.2, 0.12, 0, 0.28, 0.15, 0, 0.06,
  0.3, 0.1, 0, 0.2, 0.06, 0.28, 0, 0.15, 0.32, 0.04,
  0, 0.25, 0.1, 0.33, 0, 0.2, 0.06, 0.35, 0.15, 0,
  0.3, 0.12, 0.02, 0, 0.36, 0.25, 0.08, 0.38, 0, 0.2,
  0.4, 0.15, 0.025, 0, 0.3, 0.42, 0.1, 0.33, 0, 0.45,
  0.2, 0.46, 0.035, 0, 0.4, 0.3, 0.48, 0.12, 0.45, 0,
  0.5, 0.25, 0.52, 0.06, 0.5, 0.55, 0, 0.35, 0.58, 0.15,
  0.6, 0.45, 0.62, 0, 0.3, 0.64, 0.5, 0.66, 0, 0.2,
  0.65, 0.5, 0.68, 0.3, 0.7, 0.55, 0.72, 0.4, 0.74, 0.6,
  0.75, 0.5, 0.77, 0.65, 0.78, 0.04, 0.8, 0.6, 0.82, 0.7,
  0.84, 0.65, 0.85, 0.75, 0.86, 0.3, 0.88, 0.7, 0.9, 0.8,
  0.91, 0.6, 0.93, 0.85, 0.95, 0.75, 0.96, 0.9, 0.98, 0.8,
  1.0, 0.9, 0, 0.95, 0.2, 1.0, 0.85, 1.02, 0.95, 1.03,
  0.2, 1.04, 0.9, 1.05, 1.0, 1.06, 0.8, 1.07, 1.0, 1.08,
  1.05, 1.1, 0.95, 1.12, 1.08, 1.14, 0.055, 1.15, 1.1, 1.17,
  1.12, 1.18, 1.0, 1.2, 1.15, 1.22, 1.1, 1.23, 1.2, 1.25,
  1.2, 1.28, 1.1, 1.31, 1.25, 1.33, 1.2, 1.36, 1.3, 1.39,
  1.35, 1.41, 1.3, 1.43, 1.4, 1.45, 1.2, 1.47, 1.45, 1.49,
  1.4, 1.5, 1.45, 1.52, 1.35, 1.54, 1.5, 1.56, 1.45, 1.6,
  1.55, 1.6, 0.34, 1.62, 1.5, 1.64, 1.6, 1.65, 1.55, 1.68,
  1.65, 1.7, 1.6, 1.72, 1.68, 1.74, 1.7, 0, 1.75, 1.78,
  1.8, 1.7, 1.83, 1.8, 1.86, 1.75, 1.89, 1.85, 1.93, 1.8,
  1.97, 1.9, 2.0, 1.85, 2.04, 2.0, 2.08, 1.95, 2.13, 2.1,
  2.18, 2.1, 2.22, 2.2, 2.26, 2.15, 2.3, 0.48, 2.35, 2.3,
  2.4, 2.35, 2.44, 2.3, 2.48, 2.45, 2.52, 2.4, 2.56, 2.55,
  2.58, 2.5, 2.61, 2.6, 2.64, 2.55, 2.67, 2.65, 2.7, 0.69,
  2.73, 2.7, 2.76, 2.75, 2.79, 2.7, 2.82, 2.8, 2.85, 2.85,
  2.88, 2.85, 2.9, 2.8, 2.91, 2.9, 2.92, 2.95, 2.96, 2.9,
  3.0, 3.0, 3.04, 1.27, 3.08, 3.05, 3.12, 0, 3.16, 3.1,
  3.2, 3.2, 3.26, 3.3, 3.3, 3.35, 1.6, 3.4, 3.43, 3.45,
  3.49, 3.5, 3.55, 3.55, 3.58, 3.6, 3.65, 3.7, 3.72, 3.75,
  3.8, 3.85, 3.87, 3.9, 3.96, 4.0, 4.04, 4.1, 4.13, 4.2,
  4.22, 4.25, 4.3, 4.35, 4.4, 4.45, 4.53, 4.6, 4.67, 4.75,
  4.78, 4.8, 4.85, 4.9, 4.96, 5.0, 5.1, 5.2, 5.26, 5.3,
  5.4, 5.45, 1.2, 5.6, 5.7, 5.75, 5.84, 5.9, 5.99, 6.05,
  6.13, 6.2, 6.28, 6.35, 6.42, 6.46, 6.5, 6.53, 6.57, 6.64,
  6.72, 6.8, 6.86, 6.9, 0, 7.0, 7.1, 7.15, 7.2, 2.5,
  7.45, 0, 7.74, 7.9, 8.0, 8.3, 8.5, 4.6, 8.76, 8.9,
  9.05, 9.2, 9.34, 9.5, 9.64, 9.86, 10.1, 10.3, 10.6, 10.8,
  11.0, 11.2, 11.5, 11.7, 11.9, 12.2, 12.5, 12.8, 13.2, 13.6,
  13.9, 14.2, 14.4, 14.7, 15.2, 15.7, 16.2, 16.8, 17.4, 6.2,
  18.6, 19.7, 20.4, 21.2, 21.9, 22.3, 22.6, 24.1, 25.5, 27,
  28.5, 30, 31.4, 32.9, 34.3, 35.8, 37.2, 38.7, 40, 42,
  45, 47, 48, 50, 51, 53, 55, 58, 60, 62,
  66, 70, 75, 80, 85, 89, 99, 117, 146, 190];
const usable700 = ['0110000000', '0101001001', '0010001000', '0010010001', '0000101000',
  '1000001010', '0100100010', '0100100100', '1010010010', '0010001000',
  '1001000100', '1001000100', '1000101001', '0001000100', '0100100100',
  '1001010010', '0100101001', '0001001000', '1001010010', '1000101010',
  '1010101001', '0101001001', '0110110110', '1110110111', '0111011011',
  '1011101101', '1101110111', '0111011110', '1110111101', '1110111101',
  '1110111110', '1111110111', '1110111101', '1111111111', '1111111111',
  '1111111111', '1111111111', '1101111111', '1111111111', '1111111111',
  '1111111111', '1111111111', '1111111111', '1111111111', '1111111111',
  '1111111011', '1111111111', '1111111111', '1111111111', '1111111111',
  '1111111111', '1111111111', '1111111111', '1111111011', '1111111111',
  '1111111111', '1111111111', '1111111111', '1111111111', '1111111111',
  '1111111111', '1111011111', '1011111111', '1111111111', '1111111111',
  '1111111111', '1111111111', '1111111111', '1111111111', '1111111111'].join('');

const yTicks = [0.01, 0.1, 1, 10, 100];
const GRAY = '#c9cfd2';
const GRAY_EDGE = '#d8dcde';

const panels = [
  { tau: tau50,  hi: hi50,  lo: lo50,  use: usable50,  fill: '#ffc400', edge: '#ffd75e' },
  { tau: tau100, hi: hi100, lo: lo100, use: usable100, fill: '#ff6633', edge: '#ff9a78' },
  { tau: tau200, hi: hi200, lo: lo200, use: usable200, fill: '#f20f4b', edge: '#f7708f' },
  { tau: tau400, hi: hi400, lo: lo400, use: usable400, fill: '#c4105a', edge: '#dc6e98' },
  { tau: tau700, hi: hi700, lo: lo700, use: usable700, fill: '#7a1d58', edge: '#a9648f' }
];

const CAP = 4.5;

// vertical error bars with caps, drawn just before each dataset's markers
const errorBars = {
  id: 'errorBars',
  beforeDatasetDraw(chart, args) {
    const ds = chart.data.datasets[args.index];
    const els = args.meta.data;
    const y = chart.scales.y;
    const a = chart.chartArea;
    const ctx = chart.ctx;
    ctx.save();
    ctx.beginPath();
    ctx.rect(a.left, a.top, a.right - a.left, a.bottom - a.top);
    ctx.clip();
    ctx.strokeStyle = ds.barColor;
    ctx.lineWidth = 1.4;
    ctx.beginPath();
    ds.data.forEach((p, j) => {
      const px = els[j].x;
      const top = y.getPixelForValue(p.hi);
      const bot = p.lo > 0 ? y.getPixelForValue(p.lo) : a.bottom + 2;
      ctx.moveTo(px, top); ctx.lineTo(px, bot);
      ctx.moveTo(px - CAP, top); ctx.lineTo(px + CAP, top);
      if (p.lo > 0) { ctx.moveTo(px - CAP, bot); ctx.lineTo(px + CAP, bot); }
    });
    ctx.stroke();
    ctx.restore();
  }
};

// axes box, inward log ticks on both sides, panel heading and bottom label
const frame = {
  id: 'frame',
  afterDraw(chart, args, opts) {
    const ctx = chart.ctx;
    const a = chart.chartArea;
    const y = chart.scales.y;
    ctx.save();
    ctx.strokeStyle = '#222';
    ctx.lineWidth = 1;
    ctx.beginPath();
    for (let e = -3; e <= 2; e++) {
      for (let m = 1; m <= 9; m++) {
        const v = m * Math.pow(10, e);
        if (v < y.min || v > y.max) continue;
        const py = Math.round(y.getPixelForValue(v)) + 0.5;
        const len = m === 1 ? 6 : 3;
        ctx.moveTo(a.left, py); ctx.lineTo(a.left + len, py);
        ctx.moveTo(a.right, py); ctx.lineTo(a.right - len, py);
      }
    }
    ctx.stroke();
    ctx.strokeStyle = '#333';
    ctx.lineWidth = 1.5;
    ctx.strokeRect(a.left, a.top, a.right - a.left, a.bottom - a.top);
    ctx.fillStyle = '#111';
    ctx.font = '25px "DejaVu Sans"';
    ctx.textAlign = 'left';
    ctx.fillText(opts.title, a.left + 83, a.top + 25);
    if (opts.xlabel) {
      ctx.font = '20px "DejaVu Sans"';
      ctx.textAlign = 'center';
      ctx.fillText(opts.xlabel, (a.left + a.right) / 2 + 2, a.bottom + 28);
    }
    ctx.restore();
  }
};

const fig = document.getElementById('fig');

panels.forEach((p, k) => {
  const last = k === panels.length - 1;
  const n = p.tau.length;
  const top = 12 + 144 * k - 16;
  const cv = document.createElement('canvas');
  cv.width = 923;
  cv.height = last ? 763 - top : 176;
  cv.style.top = top + 'px';
  fig.insertBefore(cv, document.getElementById('ylab'));

  const good = [], bad = [];
  p.tau.forEach((v, i) => {
    const pt = { x: i, y: v, hi: p.hi[i], lo: p.lo[i] };
    (p.use[i] === '1' ? good : bad).push(pt);
  });
  const title = n + ' clusters; ' + good.length + ' usable';

  new Chart(cv, {
    type: 'scatter',
    data: {
      datasets: [
        { data: good, order: 0, clip: 0, barColor: p.fill,
          backgroundColor: p.fill, borderColor: p.edge },
        { data: bad, order: 1, clip: 0, barColor: GRAY,
          backgroundColor: GRAY, borderColor: GRAY_EDGE }
      ]
    },
    options: {
      responsive: false,
      animation: false,
      devicePixelRatio: 1,
      events: [],
      layout: { padding: { top: 16, bottom: cv.height - 16 - 144, left: 0, right: 2 } },
      elements: { point: { radius: 4, borderWidth: 1, hoverRadius: 4 } },
      plugins: {
        legend: { display: false },
        tooltip: { enabled: false },
        frame: { title: title, xlabel: last ? 'Cluster center' : '' }
      },
      scales: {
        x: { type: 'linear', display: false, min: 0.15, max: n - 0.25 },
        y: {
          type: 'logarithmic',
          min: 0.002,
          max: 1000,
          afterFit(s) { s.width = 88; },
          afterBuildTicks(s) { s.ticks = yTicks.map(v => ({ value: v })); },
          grid: { display: false, drawTicks: false },
          border: { display: false },
          ticks: {
            callback: v => String(v),
            color: '#111',
            padding: 5,
            font: { family: 'DejaVu Sans', size: 15 }
          }
        }
      }
    },
    plugins: [errorBars, frame]
  });
});
</script>
</body>
</html>
